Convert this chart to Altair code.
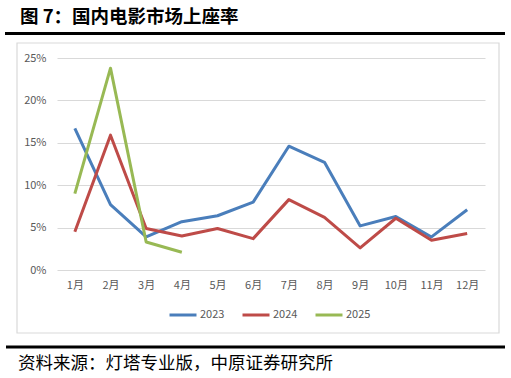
import altair as alt
import pandas as pd

months = ["1月", "2月", "3月", "4月", "5月", "6月", "7月", "8月", "9月", "10月", "11月", "12月"]
y2023 = [0.167, 0.077, 0.039, 0.057, 0.064, 0.080, 0.146, 0.127, 0.052, 0.063, 0.039, 0.071]
y2024 = [0.045, 0.159, 0.049, 0.040, 0.049, 0.037, 0.083, 0.062, 0.026, 0.061, 0.035, 0.043]
y2025 = [0.090, 0.238, 0.033, 0.021]
series = ["2023", "2024", "2025"]
colors = ["#4A7EBB", "#BE4B48", "#98B954"]

rows = []
for name, vals in zip(series, [y2023, y2024, y2025]):
    for m, v in zip(months, vals):
        rows.append({"month": m, "rate": v, "year": name})
df = pd.DataFrame(rows)

FONT = "Noto Sans CJK SC"
one = pd.DataFrame({"a": [0]})

border = alt.Chart(one).mark_rect(fill=None, stroke="#D9D9D9", strokeWidth=1.2).encode(
    x=alt.value(-40), x2=alt.value(442), y=alt.value(-15), y2=alt.value(275)
)
top_rule = alt.Chart(one).mark_rule(color="#000000", strokeWidth=3).encode(
    x=alt.value(-52), x2=alt.value(448), y=alt.value(-24.5)
)
bottom_rule = alt.Chart(one).mark_rule(color="#000000", strokeWidth=3).encode(
    x=alt.value(-51), x2=alt.value(448), y=alt.value(289)
)
title = alt.Chart(one).mark_text(
    text="图 7：国内电影市场上座率", font=FONT, fontSize=18.5, fontWeight="bold",
    align="left", baseline="middle", color="#000000"
).encode(x=alt.value(-37), y=alt.value(-41))
source = alt.Chart(one).mark_text(
    text="资料来源：灯塔专业版，中原证券研究所", font=FONT, fontSize=17.5,
    align="left", baseline="middle", color="#000000"
).encode(x=alt.value(-39), y=alt.value(306))

lines = alt.Chart(df).mark_line(strokeWidth=3, strokeJoin="round", strokeCap="butt").encode(
    x=alt.X("month:N", sort=months, scale=alt.Scale(type="point", padding=0.5),
            axis=alt.Axis(title=None, labelAngle=0, ticks=False, domain=False, grid=False,
                          labelFont=FONT, labelFontSize=11, labelColor="#595959", labelPadding=9)),
    y=alt.Y("rate:Q", scale=alt.Scale(domain=[0, 0.25], nice=False),
            axis=alt.Axis(title=None, format=".0%", values=[0, 0.05, 0.1, 0.15, 0.2, 0.25],
                          ticks=False, domain=False, gridColor="#D9D9D9", gridWidth=1,
                          labelFont=FONT, labelFontSize=11, labelColor="#595959", labelPadding=11)),
    color=alt.Color("year:N", scale=alt.Scale(domain=series, range=colors),
                    legend=alt.Legend(title=None, orient="none", legendX=111, legendY=242,
                                      direction="horizontal", symbolType="stroke",
                                      symbolStrokeWidth=3, symbolSize=729, labelOffset=2,
                                      columnPadding=11, padding=0, labelFont=FONT,
                                      labelFontSize=11, labelColor="#595959")),
    detail="year:N",
)

chart = alt.layer(border, top_rule, bottom_rule, title, source, lines).properties(
    width=428, height=212,
    autosize=alt.AutoSizeParams(type="none"),
    padding={"left": 57, "top": 58, "right": 26, "bottom": 108},
    background="#FFFFFF",
).configure_view(stroke=None)

chart.save("out.html", embed_options={"renderer": "svg", "actions": False})
